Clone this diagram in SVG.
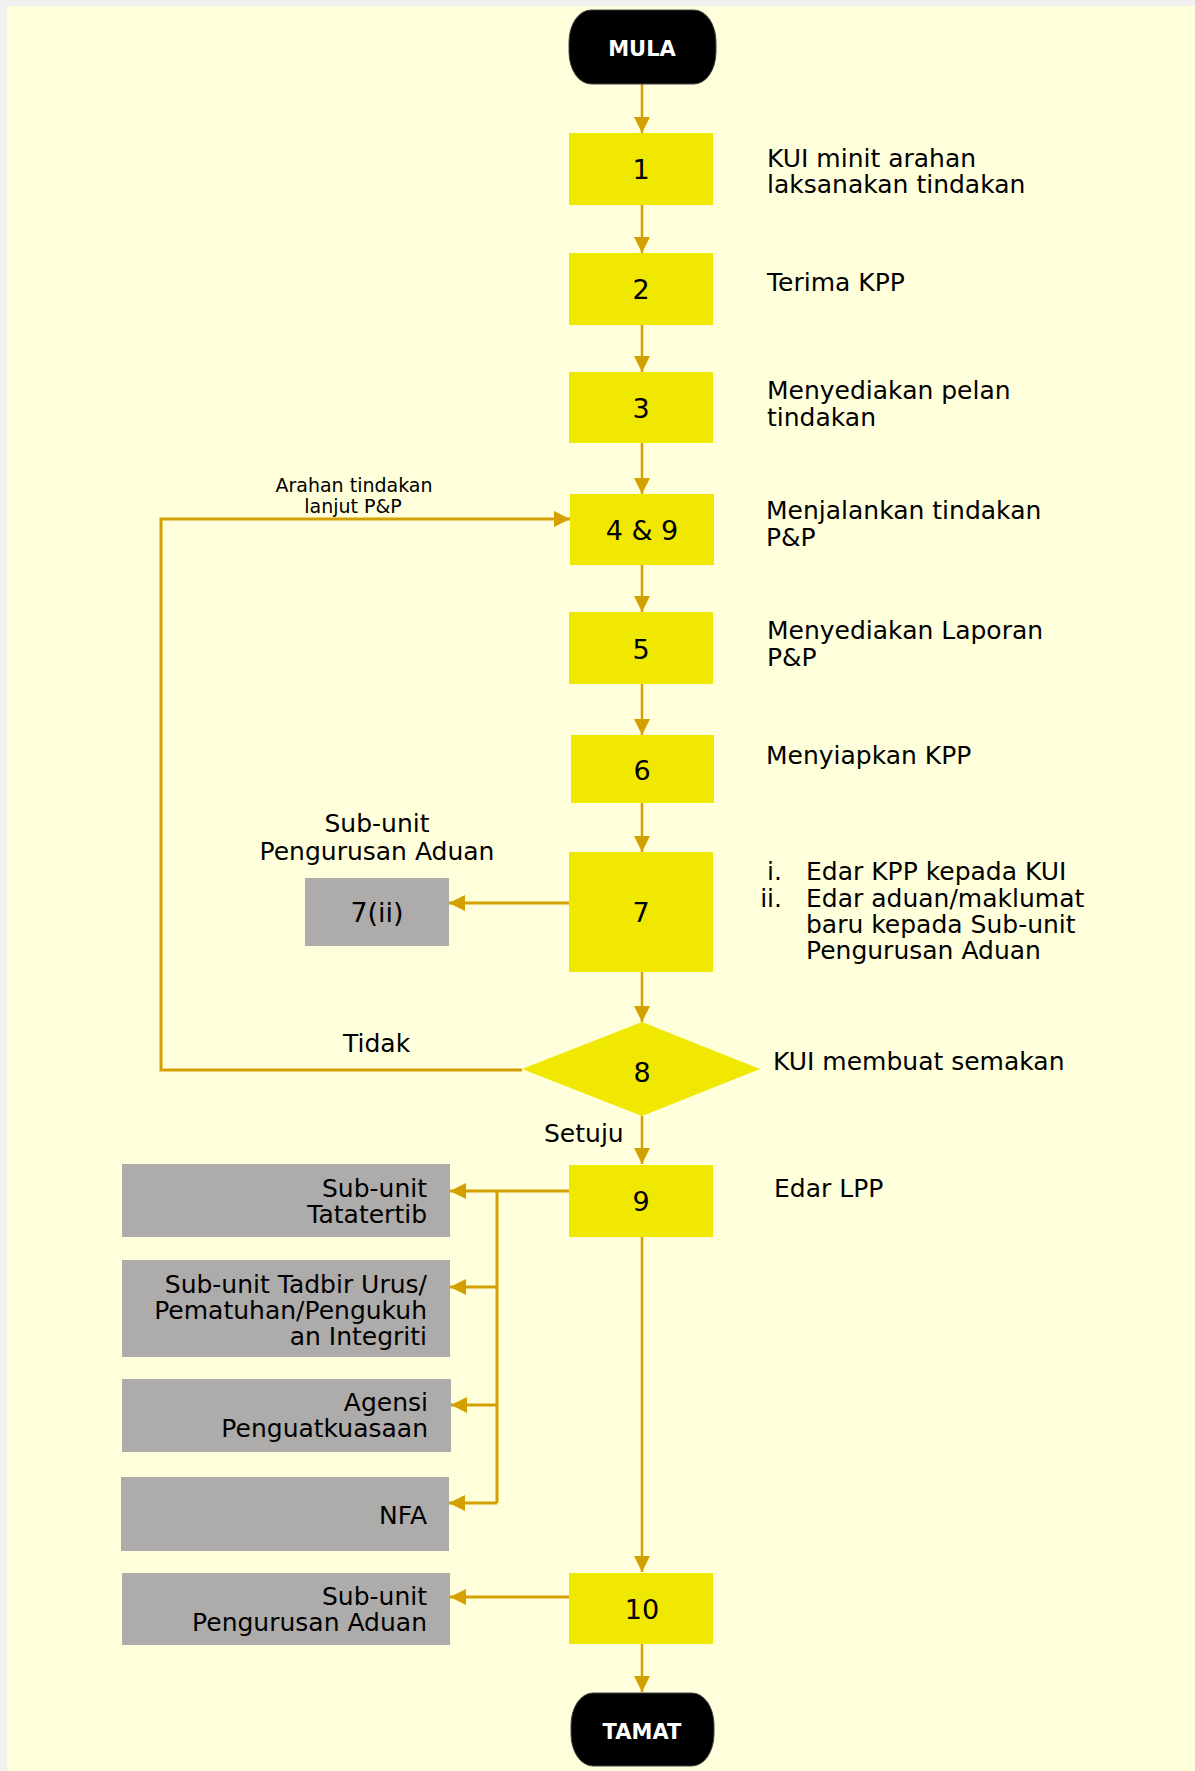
<svg xmlns="http://www.w3.org/2000/svg" width="1195" height="1771" viewBox="0 0 1195 1771">
<defs>
<style>
.bg{fill:#FFFFDC}
.box{fill:#F0E800}
.gray{fill:#AEABAB}
.term{fill:#000;stroke:#444;stroke-width:1}
.t{font-family:"DejaVu Sans","Liberation Sans",sans-serif;font-size:25px;fill:#000}
.num{font-family:"DejaVu Sans","Liberation Sans",sans-serif;font-size:27px;fill:#000;text-anchor:middle}
.tt{font-family:"DejaVu Sans","Liberation Sans",sans-serif;font-size:21px;font-weight:bold;fill:#fff;text-anchor:middle}
.sm{font-family:"DejaVu Sans","Liberation Sans",sans-serif;font-size:19px;fill:#000;text-anchor:middle}
.r{text-anchor:end}
.c{text-anchor:middle}
.ln{fill:none;stroke:#D4A000;stroke-width:2.5}
.lt{fill:none;stroke:#D4A000;stroke-width:3}
.a{marker-end:url(#ah)}
</style>
<marker id="ah" markerUnits="userSpaceOnUse" markerWidth="16" markerHeight="16" viewBox="0 0 16 16" refX="16" refY="8" orient="auto">
<path d="M0,0 L16,8 L0,16 z" fill="#D4A000"/>
</marker>
</defs>
<rect x="0" y="0" width="1195" height="1771" fill="#F1F1F1"/>
<rect class="bg" x="7" y="6" width="1188" height="1765"/>

<g id="connectors">
<line class="ln a" x1="642" y1="84" x2="642" y2="133"/>
<line class="ln a" x1="642" y1="205" x2="642" y2="253"/>
<line class="ln a" x1="642" y1="325" x2="642" y2="372"/>
<line class="ln a" x1="642" y1="443" x2="642" y2="494"/>
<line class="ln a" x1="642" y1="565" x2="642" y2="612"/>
<line class="ln a" x1="642" y1="684" x2="642" y2="735"/>
<line class="ln a" x1="642" y1="803" x2="642" y2="852"/>
<line class="ln a" x1="642" y1="972" x2="642" y2="1022"/>
<line class="ln a" x1="642" y1="1116" x2="642" y2="1164"/>
<line class="ln a" x1="642" y1="1237" x2="642" y2="1572"/>
<line class="ln a" x1="642" y1="1644" x2="642" y2="1692"/>
<line class="lt a" x1="569" y1="903" x2="449" y2="903"/>
<polyline class="lt a" points="522,1070 161,1070 161,519 570,519"/>
<line class="lt a" x1="569" y1="1191" x2="450" y2="1191"/>
<line class="lt" x1="497" y1="1191" x2="497" y2="1503"/>
<line class="lt a" x1="497" y1="1287" x2="450" y2="1287"/>
<line class="lt a" x1="497" y1="1405" x2="451" y2="1405"/>
<line class="lt a" x1="497" y1="1503" x2="449" y2="1503"/>
<line class="lt a" x1="569" y1="1597" x2="450" y2="1597"/>
<text class="sm" x="354" y="492">Arahan tindakan</text>
<text class="sm" x="353" y="513">lanjut P&amp;P</text>
<text class="t" x="343" y="1052">Tidak</text>
<text class="t" x="544" y="1142">Setuju</text>
</g>

<g id="mula">
<rect class="term" x="569" y="10" width="147" height="74" rx="22" ry="32"/>
<text class="tt" x="642" y="56">MULA</text>
</g>

<g id="n1">
<rect class="box" x="569" y="133" width="144" height="72"/>
<text class="num" x="641" y="179">1</text>
<text class="t" x="767" y="167">KUI minit arahan</text>
<text class="t" x="767" y="193">laksanakan tindakan</text>
</g>

<g id="n2">
<rect class="box" x="569" y="253" width="144" height="72"/>
<text class="num" x="641" y="299">2</text>
<text class="t" x="767" y="291">Terima KPP</text>
</g>

<g id="n3">
<rect class="box" x="569" y="372" width="144" height="71"/>
<text class="num" x="641" y="418">3</text>
<text class="t" x="767" y="399">Menyediakan pelan</text>
<text class="t" x="767" y="426">tindakan</text>
</g>

<g id="n4">
<rect class="box" x="570" y="494" width="144" height="71"/>
<text class="num" x="642" y="540">4 &amp; 9</text>
<text class="t" x="766" y="519">Menjalankan tindakan</text>
<text class="t" x="766" y="546">P&amp;P</text>
</g>

<g id="n5">
<rect class="box" x="569" y="612" width="144" height="72"/>
<text class="num" x="641" y="659">5</text>
<text class="t" x="767" y="639">Menyediakan Laporan</text>
<text class="t" x="767" y="666">P&amp;P</text>
</g>

<g id="n6">
<rect class="box" x="571" y="735" width="143" height="68"/>
<text class="num" x="642" y="780">6</text>
<text class="t" x="766" y="764">Menyiapkan KPP</text>
</g>

<g id="n7">
<rect class="box" x="569" y="852" width="144" height="120"/>
<text class="num" x="641" y="922">7</text>
<text class="t r" x="782" y="880">i.</text>
<text class="t" x="806" y="880">Edar KPP kepada KUI</text>
<text class="t r" x="782" y="907">ii.</text>
<text class="t" x="806" y="907">Edar aduan/maklumat</text>
<text class="t" x="806" y="933">baru kepada Sub-unit</text>
<text class="t" x="806" y="959">Pengurusan Aduan</text>
</g>

<g id="n7ii">
<rect class="gray" x="305" y="878" width="144" height="68"/>
<text class="num" x="377" y="922">7(ii)</text>
<text class="t c" x="377" y="832">Sub-unit</text>
<text class="t c" x="377" y="860">Pengurusan Aduan</text>
</g>

<g id="n8">
<polygon class="box" points="642,1022 760,1069 642,1116 522,1069"/>
<text class="num" x="642" y="1082">8</text>
<text class="t" x="773" y="1070">KUI membuat semakan</text>
</g>

<g id="n9">
<rect class="box" x="569" y="1165" width="144" height="72"/>
<text class="num" x="641" y="1211">9</text>
<text class="t" x="774" y="1197">Edar LPP</text>
</g>

<g id="tatatertib">
<rect class="gray" x="122" y="1164" width="328" height="73"/>
<text class="t r" x="427" y="1197">Sub-unit</text>
<text class="t r" x="427" y="1223">Tatatertib</text>
</g>

<g id="tadbir">
<rect class="gray" x="122" y="1260" width="328" height="97"/>
<text class="t r" x="427" y="1293">Sub-unit Tadbir Urus/</text>
<text class="t r" x="427" y="1319">Pematuhan/Pengukuh</text>
<text class="t r" x="427" y="1345">an Integriti</text>
</g>

<g id="agensi">
<rect class="gray" x="122" y="1379" width="329" height="73"/>
<text class="t r" x="428" y="1411">Agensi</text>
<text class="t r" x="428" y="1437">Penguatkuasaan</text>
</g>

<g id="nfa">
<rect class="gray" x="121" y="1477" width="328" height="74"/>
<text class="t r" x="427" y="1524">NFA</text>
</g>

<g id="pengurusan">
<rect class="gray" x="122" y="1573" width="328" height="72"/>
<text class="t r" x="427" y="1605">Sub-unit</text>
<text class="t r" x="427" y="1631">Pengurusan Aduan</text>
</g>

<g id="n10">
<rect class="box" x="569" y="1573" width="144" height="71"/>
<text class="num" x="642" y="1619">10</text>
</g>

<g id="tamat">
<rect class="term" x="571" y="1693" width="143" height="73" rx="22" ry="32"/>
<text class="tt" x="642" y="1739">TAMAT</text>
</g>
</svg>
